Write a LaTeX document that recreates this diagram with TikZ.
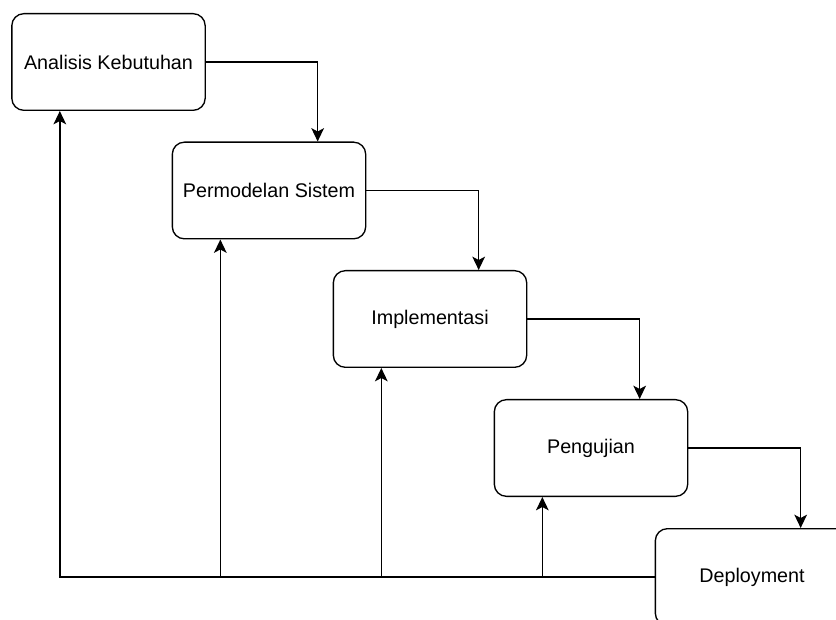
\documentclass[tikz,border=0pt]{standalone}
\usepackage{fontspec}
\setmainfont{Liberation Sans}
\usetikzlibrary{arrows.meta,positioning,calc}

\begin{document}
\begin{tikzpicture}[x=0.75pt,y=-0.75pt,
  every node/.style={font=\fontsize{14.8}{17}\selectfont},
  stage/.style={draw,fill=white,rounded corners=9pt,line width=1pt,minimum width=145pt,minimum height=72.5pt,inner sep=0pt,align=center},
  flow/.style={-{Stealth[length=10pt,width=9.5pt,inset=2.5pt]},line width=1pt}]
  \useasboundingbox (0,0) rectangle (836,620);
  \clip (0,0) rectangle (836,620);
  % stages
  \node[stage] (ana) at (108.5,62) {Analisis Kebutuhan};
  \node[stage] (perm) at (269,190.5) {Permodelan Sistem};
  \node[stage] (impl) at (430,319) {Implementasi};
  \node[stage] (peng) at (591,448) {Pengujian};
  \node[stage] (depl) at (752,577) {Deployment};
  % forward flow
  \draw[flow] (ana.east) -| ($(perm.north west)!0.75!(perm.north east)$);
  \draw[flow] (perm.east) -| ($(impl.north west)!0.75!(impl.north east)$);
  \draw[flow] (impl.east) -| ($(peng.north west)!0.75!(peng.north east)$);
  \draw[flow] (peng.east) -| ($(depl.north west)!0.75!(depl.north east)$);
  % feedback
  \coordinate (a1) at ($(ana.south west)!0.25!(ana.south east)$);
  \coordinate (p1) at ($(perm.south west)!0.25!(perm.south east)$);
  \coordinate (i1) at ($(impl.south west)!0.25!(impl.south east)$);
  \coordinate (g1) at ($(peng.south west)!0.25!(peng.south east)$);
  \draw[flow] (depl.west) -| (a1);
  \draw[flow] (p1 |- depl.west) -- (p1);
  \draw[flow] (i1 |- depl.west) -- (i1);
  \draw[flow] (g1 |- depl.west) -- (g1);
\end{tikzpicture}
\end{document}
